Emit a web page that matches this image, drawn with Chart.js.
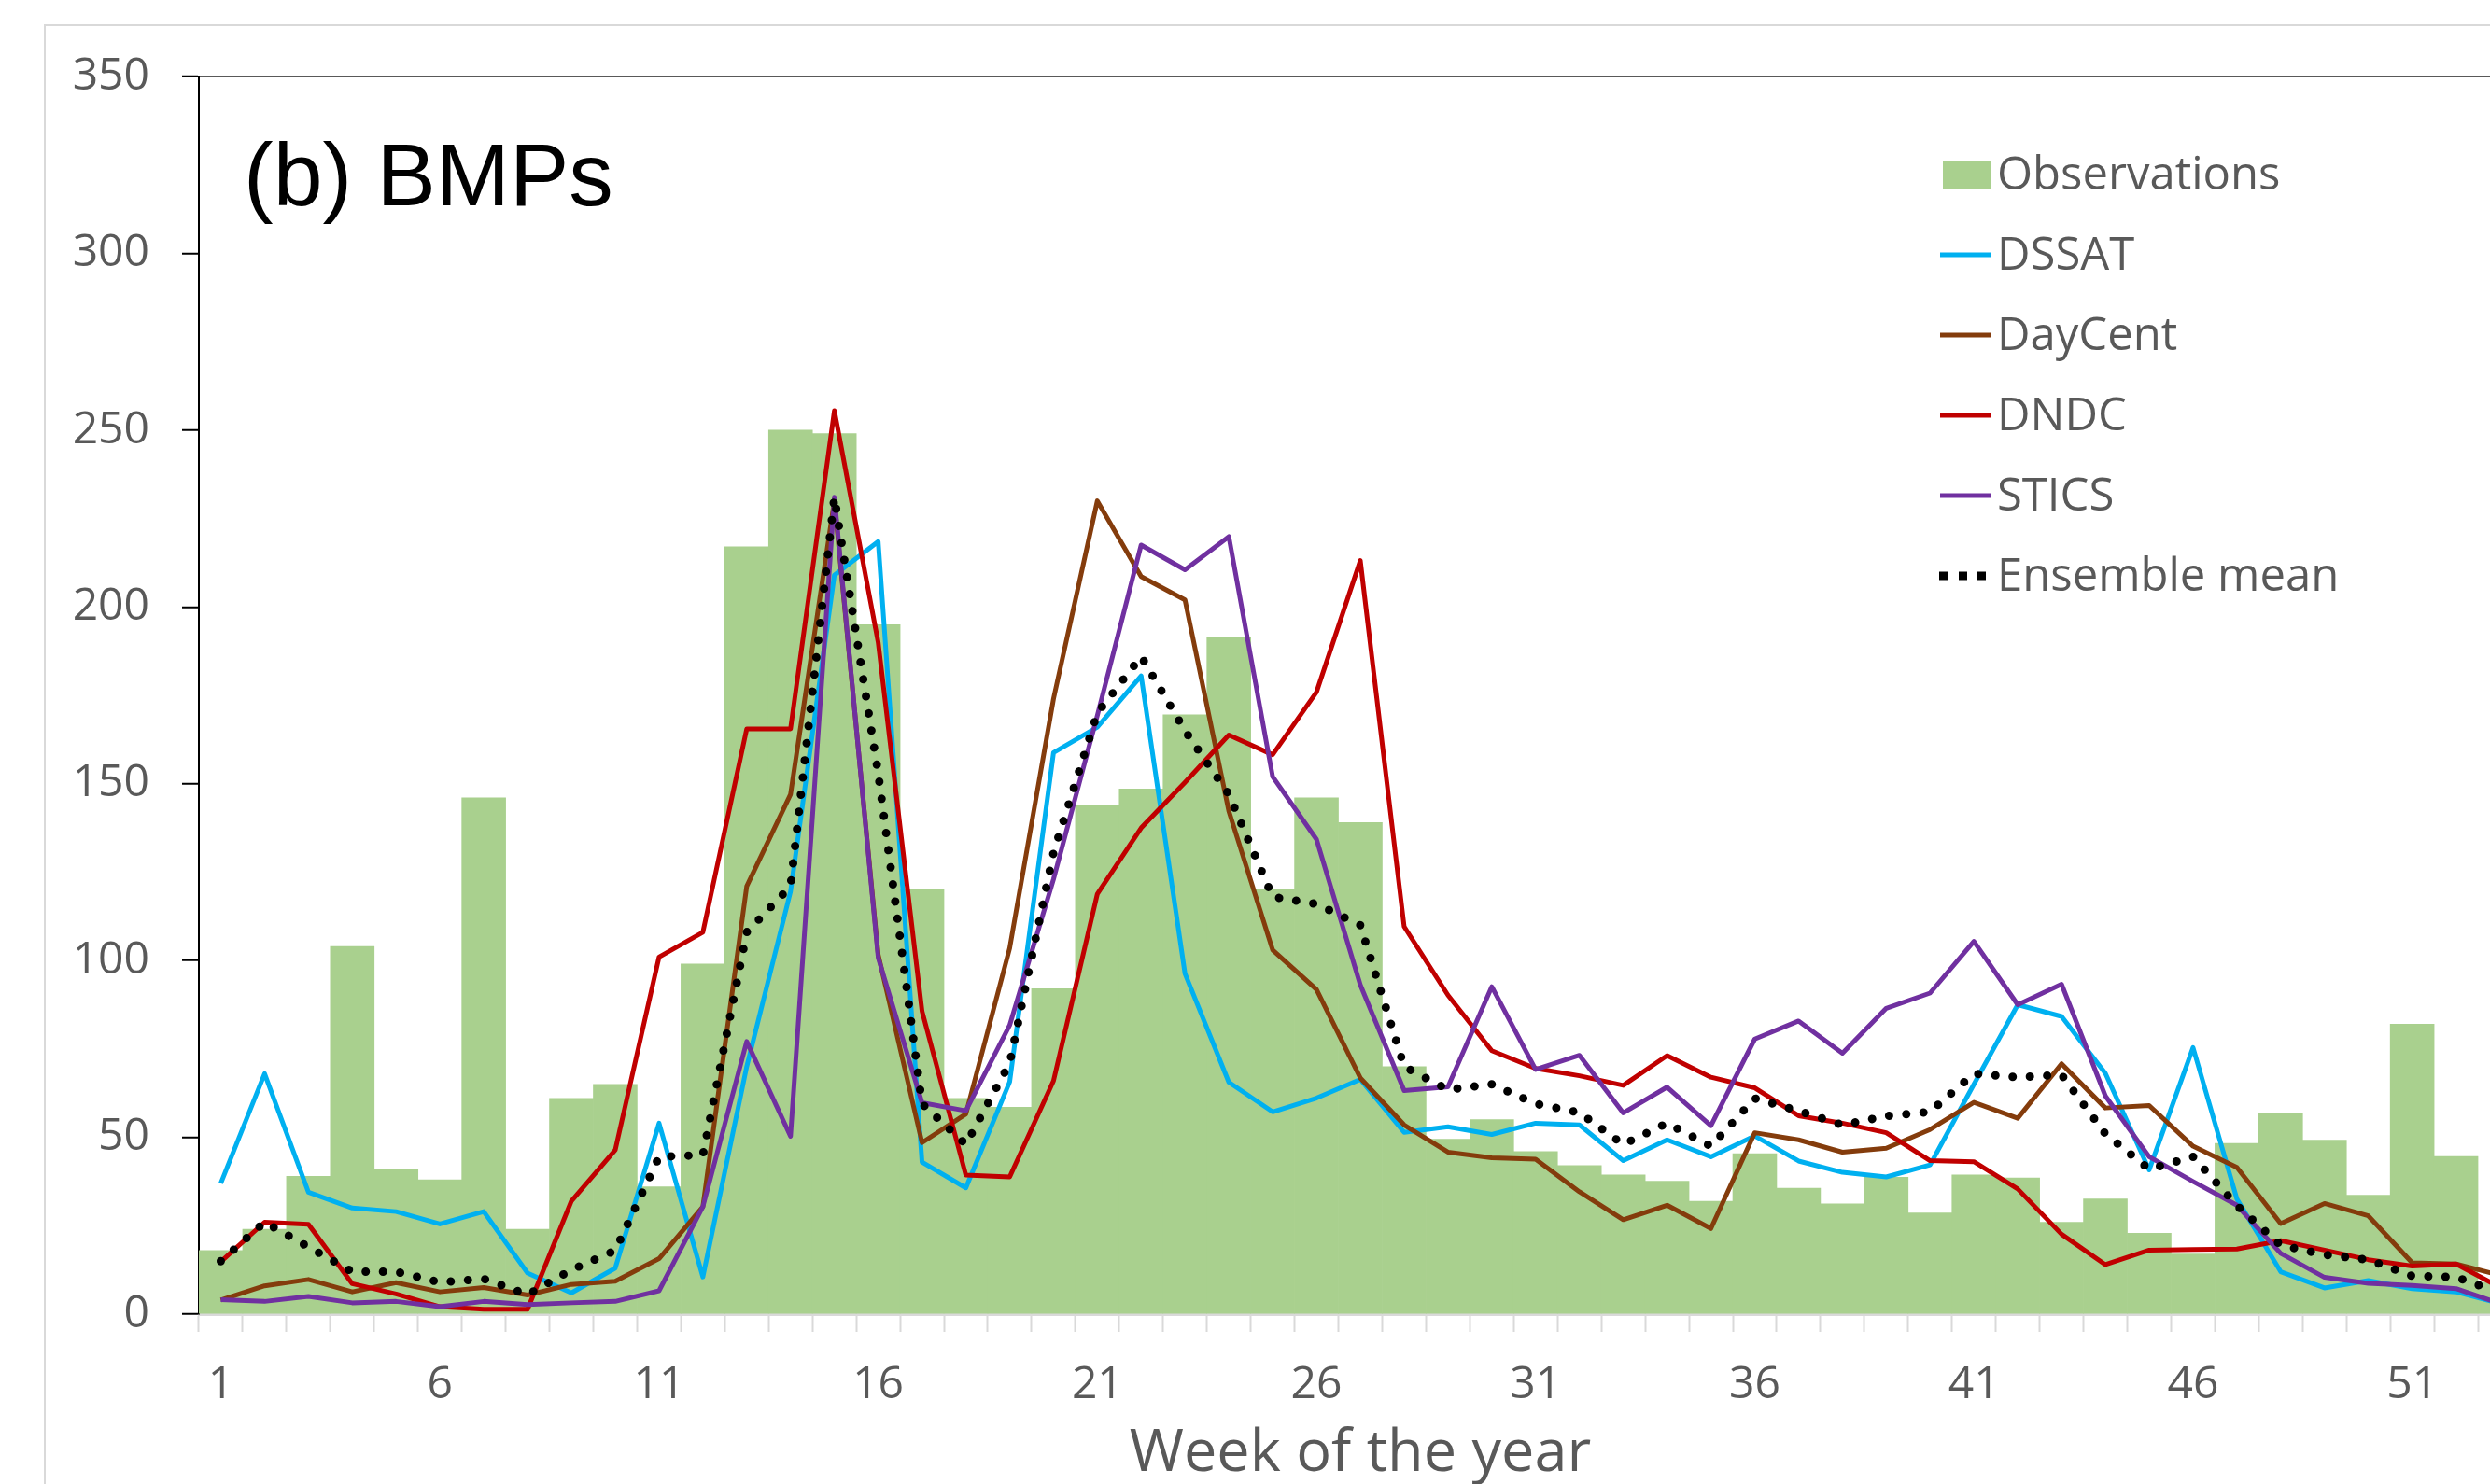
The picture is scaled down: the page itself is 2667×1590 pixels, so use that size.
<!DOCTYPE html>
<html><head><meta charset="utf-8">
<style>
html,body{margin:0;padding:0;background:#fff;overflow:hidden;width:2667px;height:1590px}
#wrap{position:absolute;left:0;top:0;width:2720px;height:1600px}
canvas{display:block}
</style>
<script src="https://cdn.jsdelivr.net/npm/chart.js@4.4.0/dist/chart.umd.min.js"></script>
</head><body><div id="wrap"><canvas id="c" width="2720" height="1600"></canvas></div>
<script>
const weeks = [1,2,3,4,5,6,7,8,9,10,11,12,13,14,15,16,17,18,19,20,21,22,23,24,25,26,27,28,29,30,31,32,33,34,35,36,37,38,39,40,41,42,43,44,45,46,47,48,49,50,51,52,53];
const tickLabels = ['1','6','11','16','21','26','31','36','41','46','51'];
const yTicks = [0,50,100,150,200,250,300,350];

const observations = [18,24,39,104,41,38,146,24,61,65,36,99,217,250,249,195,120,61,58.5,92,144,148.5,169.5,191.5,120,146,139,70,49.5,55,46,42,39.4,37.6,31.9,45.4,35.6,31.2,38.7,28.6,39.4,38.5,26,32.6,22.9,17,48.3,56.9,49.2,33.6,82,44.6,9];
const dssat = [37,68,34.5,30,29,25.5,29,11.6,6,13,54,10.5,70,119.5,209,218.5,43,35.7,65.7,158.8,166,180.5,96.3,65.6,57.2,61.1,66.4,51.4,53,50.8,54,53.5,43.4,49.3,44.5,50.4,43.3,40.1,38.8,42.2,65,87.5,84.2,68.1,40.8,75.4,32.6,12,7.4,9.5,7.2,6.3,3];
const daycent = [4,8,9.8,6.3,8.9,6.3,7.5,5.4,8.4,9.3,15.7,30.4,121,147,230,101.7,48.5,56.6,103.5,174,230,208.6,202,142.3,103,91.8,66.8,53.5,45.8,44.2,43.8,34.6,26.7,30.8,24.2,51.3,49.3,45.8,46.9,52.2,59.9,55.4,70.8,58.3,59,47.5,41.5,25.6,31.3,27.8,14.5,14.2,11];
const dndc = [14.8,26,25.4,8.6,5.7,2.1,1.4,1.4,32,46.4,101,108,165.5,165.5,255.5,190,85.7,39.3,38.8,66,118.8,137.5,150.4,163.8,158.2,175.9,213.1,109.6,90.2,74.5,69.5,67.4,64.7,73.1,67,64,56.1,54,51.3,43.4,43.1,35.4,22.6,14,18.1,18.3,18.4,20.8,18.1,15.4,13.6,14.2,7.6];
const stics = [4.1,3.6,5,3.2,3.6,2.1,3.6,2.7,3.2,3.6,6.6,30.4,77.1,50.3,231,100.8,59.8,57.5,81.7,123,169.3,217.5,210.5,219.9,152,134.3,93.1,63.2,64.3,92.6,69.2,73.2,56.9,64.2,53.3,77.8,82.9,73.8,86.5,90.8,105.4,87.5,93.3,61.7,44.5,37.5,30.8,17.2,10.4,8.7,8.1,7.2,3];
const ensemble = [15,26,19,12,12,9,10,5.5,12.5,18,44.5,45,108,121,231,153,59.5,48,71,130.5,170,186,165,147,118,116,110,70,63.5,65,59.5,57,48,54,47.5,61,57.5,53.5,56,57.2,68,67,67.7,51,41,44.5,30.7,19.5,16.8,15.4,10.8,10.5,6];

const seriesNames = ['Observations','DSSAT','DayCent','DNDC','STICS','Ensemble mean'];
const colors = {obs:'#A9D08E', dssat:'#00B0F0', daycent:'#843C0C', dndc:'#C00000', stics:'#7030A0', ens:'#000000'};

const decor = {
  id: 'decor',
  beforeDraw(chart) {
    const ctx = chart.ctx;
    ctx.save();
    ctx.fillStyle = '#ffffff';
    ctx.fillRect(0, 0, chart.width, chart.height);
    ctx.strokeStyle = '#d9d9d9';
    ctx.lineWidth = 2;
    ctx.strokeRect(48, 27, chart.width + 200, chart.height + 200);
    ctx.restore();
  },
  afterDraw(chart) {
    const ctx = chart.ctx;
    ctx.save();
    ctx.fillStyle = '#000';
    ctx.font = '95px "Liberation Sans", Arial, sans-serif';
    ctx.textBaseline = 'alphabetic';
    ctx.textAlign = 'left';
    ctx.fillText('(b) BMPs', 261, 220);
    const ds = chart.data.datasets;
    const x0 = 2078, x1 = 2133, tx = 2139, y0 = 187, dy = 86;
    ctx.font = '49px "Open Sans", sans-serif';
    ctx.textBaseline = 'middle';
    ds.forEach((d, i) => {
      const y = y0 + i * dy;
      if (d.type === 'bar' || !d.type) {
        ctx.fillStyle = d.backgroundColor;
        ctx.fillRect(2081, y - 15, 52, 31);
      } else if (d.borderDash && d.borderDash.length) {
        ctx.fillStyle = d.borderColor;
        [2077, 2098, 2118].forEach(px => ctx.fillRect(px, y - 4.5, 9, 9));
      } else {
        ctx.strokeStyle = d.borderColor;
        ctx.lineWidth = 5;
        ctx.beginPath(); ctx.moveTo(x0, y); ctx.lineTo(x1, y); ctx.stroke();
      }
      ctx.fillStyle = '#595959';
      ctx.fillText(d.label, tx, y + 2);
    });
    ctx.restore();
  }
};

const lineDs = (label, data, color, order) => ({
  type: 'line', label, data, borderColor: color, backgroundColor: color,
  borderWidth: 5, pointRadius: 0, pointHoverRadius: 0, tension: 0, fill: false, order,
  borderJoinStyle: 'round'
});

new Chart(document.getElementById('c'), {
  type: 'bar',
  data: {
    labels: weeks.map(String),
    datasets: [
      { type: 'bar', label: seriesNames[0], data: observations, backgroundColor: colors.obs,
        borderWidth: 0, categoryPercentage: 1.0, barPercentage: 1.0, order: 10 },
      lineDs(seriesNames[1], dssat, colors.dssat, 5),
      lineDs(seriesNames[2], daycent, colors.daycent, 4),
      lineDs(seriesNames[3], dndc, colors.dndc, 3),
      lineDs(seriesNames[4], stics, colors.stics, 2),
      Object.assign(lineDs(seriesNames[5], ensemble, colors.ens, 1),
        { borderWidth: 9, borderDash: [0.001, 18.5], borderCapStyle: 'round' })
    ]
  },
  options: {
    responsive: false, animation: false, devicePixelRatio: 1,
    layout: { padding: { top: 82, right: 19, bottom: 0, left: 0 } },
    plugins: { legend: { display: false }, tooltip: { enabled: false }, title: { display: false } },
    scales: {
      x: {
        offset: true,
        afterFit: s => { s.height = 192; },
        grid: { offset: true, drawOnChartArea: false, drawTicks: true, tickLength: 19,
                tickColor: '#d9d9d9', tickWidth: 2, color: '#d9d9d9' },
        border: { display: true, color: '#d9d9d9', width: 3 },
        ticks: {
          autoSkip: false, maxRotation: 0, minRotation: 0, padding: 29,
          color: '#595959', font: { family: '"Open Sans", sans-serif', size: 48 },
          callback: function(v, i) { const w = String(weeks[i]); return tickLabels.includes(w) ? w : ''; }
        },
        title: { display: true, text: 'Week of the year', color: '#595959',
                 font: { family: '"Open Sans", sans-serif', size: 63 }, padding: { top: 0, bottom: 4 } }
      },
      y: {
        min: 0, max: 350, z: 1,
        afterFit: s => { s.width = 213; },
        afterBuildTicks: s => { s.ticks = yTicks.map(v => ({ value: v })); },
        grid: {
          drawOnChartArea: true, drawTicks: true, tickLength: 18, tickWidth: 2, tickColor: '#000',
          color: c => (c.tick && c.tick.value === 350) ? '#595959' : 'rgba(0,0,0,0)',
          lineWidth: 1.5
        },
        border: { display: true, color: '#000', width: 2 },
        ticks: { stepSize: 50, padding: 35, color: '#595959',
                 font: { family: '"Open Sans", sans-serif', size: 48 } }
      }
    }
  },
  plugins: [decor]
});
</script></body></html>
